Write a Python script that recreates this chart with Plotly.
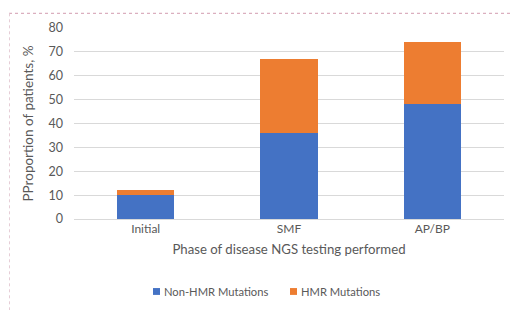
import plotly.graph_objects as go

categories = ["Initial", "SMF", "AP/BP"]
non_hmr = [10, 36, 48]
hmr = [2, 31, 26]
y_ticks = [0, 10, 20, 30, 40, 50, 60, 70, 80]
series_names = ["Non-HMR Mutations", "HMR Mutations"]

FONT = "Lato, Open Sans, sans-serif"
GRAY = "#595959"
BLUE = "#4472C4"
ORANGE = "#ED7D31"

fig = go.Figure()
fig.add_trace(go.Bar(x=categories, y=non_hmr, name=series_names[0], showlegend=False,
                     marker=dict(color=BLUE, line=dict(width=0)), width=0.4))
fig.add_trace(go.Bar(x=categories, y=hmr, name=series_names[1], showlegend=False,
                     marker=dict(color=ORANGE, line=dict(width=0)), width=0.4))

L, R, T, B = 66, 24, 16, 99
W, H = 520, 310
pw, ph = W - L - R, H - T - B

def px(x):
    return (x - L) / pw

def py(y):
    return (H - B - y) / ph

shapes = [
    dict(type="line", xref="paper", yref="paper", x0=px(1), x1=px(519), y0=py(1), y1=py(1),
         line=dict(color="#d39bb0", width=1, dash="dot")),
    dict(type="line", xref="paper", yref="paper", x0=px(1.5), x1=px(1.5), y0=py(1), y1=py(306),
         line=dict(color="#e6cdd6", width=1, dash="dot")),
    dict(type="line", xref="paper", yref="paper", x0=px(512), x1=px(512), y0=py(4), y1=py(306),
         line=dict(color="#c8c8c8", width=1.5)),
    dict(type="line", xref="paper", yref="paper", x0=px(1), x1=px(512), y0=py(306), y1=py(306),
         line=dict(color="#c8c8c8", width=1.5)),
]
annotations = []
# legend keys
for name, col, sx in [(series_names[0], BLUE, 145), (series_names[1], ORANGE, 282)]:
    shapes.append(dict(type="rect", xref="paper", yref="paper", x0=px(sx), x1=px(sx + 7),
                       y0=py(288.5), y1=py(281.5), fillcolor=col, line=dict(width=0)))
    annotations.append(dict(text=name, xref="paper", yref="paper", x=px(sx + 9), y=py(285),
                            xanchor="left", yanchor="middle", showarrow=False,
                            font=dict(size=11.2, color=GRAY, family=FONT)))

fig.update_layout(
    barmode="stack",
    width=W, height=H,
    margin=dict(l=L, r=R, t=T, b=B),
    paper_bgcolor="white", plot_bgcolor="white",
    font=dict(family=FONT, color=GRAY, size=12),
    showlegend=False,
    xaxis=dict(showgrid=False, showline=False, ticks="", tickfont=dict(size=12, color=GRAY),
               ticklabelstandoff=1,
               title=dict(text="Phase of disease NGS testing performed",
                          font=dict(size=13.2, color=GRAY), standoff=9)),
    yaxis=dict(range=[0, 80], tickvals=y_ticks, showgrid=True, gridcolor="#d9d9d9",
               gridwidth=1, zeroline=True, zerolinecolor="#d9d9d9", zerolinewidth=1,
               showline=False, ticks="", tickfont=dict(size=12.5, color=GRAY),
               ticklabelstandoff=10,
               title=dict(text="PProportion of patients, %", font=dict(size=13.5, color=GRAY),
                          standoff=11)),
    bargap=0.6,
    shapes=shapes,
    annotations=annotations,
)

fig.write_html("out.html")
